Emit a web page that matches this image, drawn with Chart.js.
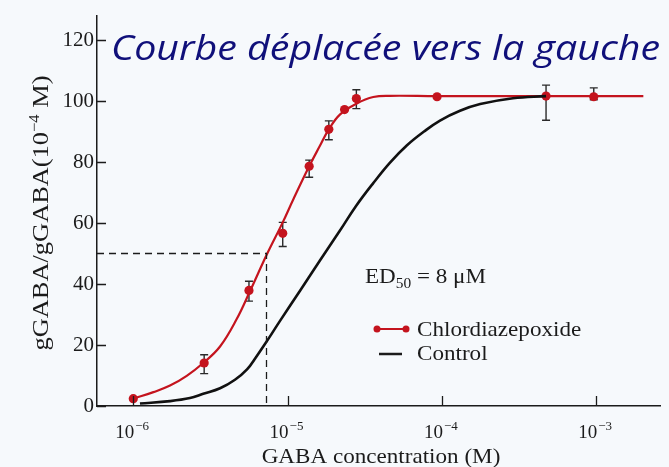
<!DOCTYPE html>
<html>
<head>
<meta charset="utf-8">
<script src="https://cdn.jsdelivr.net/npm/chart.js@4.4.1/dist/chart.umd.min.js"></script>
<style>
  html, body { margin: 0; padding: 0; background: #f6f9fc; }
</style>
</head>
<body>
<canvas id="chart" width="669" height="467"></canvas>
<script>
// values
const decades = [1e-6, 1e-5, 1e-4, 1e-3];
const decadeExp = ["\u22126", "\u22125", "\u22124", "\u22123"];
const yTicks = [0, 20, 40, 60, 80, 100, 120];

// chlordiazepoxide measurements (mean and error bar ends)
const cdzConc = [1.0e-6, 2.88e-6, 5.62e-6, 9.3e-6, 1.38e-5, 1.85e-5, 2.34e-5, 2.79e-5, 9.3e-5, 4.73e-4, 9.64e-4];
const cdzResp = [2.4, 14.1, 37.9, 56.6, 78.6, 90.7, 97.2, 100.8, 101.4, 101.6, 101.4];
const cdzErrLow = [null, 10.6, 34.4, 52.3, 75.0, 87.3, null, 97.5, null, 93.7, 100.4];
const cdzErrHigh = [null, 16.8, 40.9, 60.2, 80.6, 93.5, null, 103.7, null, 105.2, 104.3];

// fitted curves
const cdzFitX = [1.0e-6, 1.35e-6, 1.73e-6, 2.22e-6, 2.84e-6, 3.65e-6, 4.68e-6, 5.70e-6, 7.32e-6, 9.3e-6, 1.09e-5, 1.38e-5, 1.62e-5, 1.85e-5, 2.19e-5, 2.79e-5, 3.59e-5, 4.61e-5, 9.3e-5, 2.02e-3];
const cdzFitY = [2.4, 4.55, 6.7, 9.9, 14.1, 19.5, 28.5, 37.6, 49.6, 60.2, 67.8, 78.6, 85.3, 90.7, 95.6, 99.1, 101.3, 101.7, 101.6, 101.6];
const ctrlFitX = [1.105e-6, 1.73e-6, 2.33e-6, 2.84e-6, 3.65e-6, 4.56e-6, 5.46e-6, 6.24e-6, 7.24e-6, 8.93e-6, 1.204e-5, 1.624e-5, 2.19e-5, 2.77e-5, 3.58e-5, 4.61e-5, 5.94e-5, 7.66e-5, 9.72e-5, 1.31e-4, 1.77e-4, 2.89e-4, 4.73e-4];
const ctrlFitY = [0.8, 1.6, 2.6, 4.0, 5.8, 8.6, 12.0, 16.0, 20.8, 27.9, 37.8, 47.8, 57.6, 65.5, 73.0, 79.8, 85.5, 90.0, 93.6, 96.8, 99.0, 100.9, 101.6];

// half-max guide
const edConc = 7.3e-6;
const edLevel = 50;
const xMin = 5.82e-7, xMax = 2.59e-3;

const serif = "'Liberation Serif', 'DejaVu Serif', serif";
const red = '#c4141e';
const ink = '#1b1b1b';
const stretch = 1.1; // the figure's serif is wider than Times

function pts(xs, ys) {
  return xs.map((x, i) => ({ x: x, y: ys[i] }));
}

// serif text widened a little, left aligned at x
function wideText(ctx, text, x, y, size) {
  ctx.save();
  ctx.font = size + 'px ' + serif;
  ctx.textAlign = 'left';
  ctx.translate(x, y);
  ctx.scale(stretch, 1);
  ctx.fillText(text, 0, 0);
  const w = ctx.measureText(text).width * stretch;
  ctx.restore();
  return w;
}

function wideWidth(ctx, text, size) {
  ctx.save();
  ctx.font = size + 'px ' + serif;
  const w = ctx.measureText(text).width * stretch;
  ctx.restore();
  return w;
}

// draws "10" ending at x, exponent raised to its right
function drawPow(ctx, x, y, base, exp) {
  ctx.textAlign = 'right';
  ctx.font = '19px ' + serif;
  ctx.fillText(base, x, y);
  ctx.textAlign = 'left';
  ctx.font = '13px ' + serif;
  ctx.fillText(exp, x + 1, y - 8);
}

const overlay = {
  id: 'overlay',
  beforeDraw(chart) {
    const ctx = chart.ctx;
    ctx.save();
    ctx.fillStyle = '#f6f9fc';
    ctx.fillRect(0, 0, chart.width, chart.height);
    ctx.restore();
  },
  beforeDatasetsDraw(chart) {
    const ctx = chart.ctx, xs = chart.scales.x, ys = chart.scales.y;
    ctx.save();
    ctx.strokeStyle = '#2a2a2a';
    ctx.lineWidth = 1.4;
    cdzConc.forEach((c, i) => {
      if (cdzErrHigh[i] == null) return;
      const px = xs.getPixelForValue(c);
      const top = ys.getPixelForValue(cdzErrHigh[i]);
      const bot = ys.getPixelForValue(cdzErrLow[i]);
      ctx.beginPath();
      ctx.moveTo(px, top); ctx.lineTo(px, bot);
      ctx.moveTo(px - 4, top); ctx.lineTo(px + 4, top);
      ctx.moveTo(px - 4, bot); ctx.lineTo(px + 4, bot);
      ctx.stroke();
    });
    ctx.restore();
  },
  afterDraw(chart) {
    const ctx = chart.ctx, xs = chart.scales.x, ys = chart.scales.y;
    const area = chart.chartArea;
    ctx.save();

    // tick marks point inward
    ctx.strokeStyle = ink;
    ctx.lineWidth = 1.3;
    ctx.beginPath();
    yTicks.forEach(v => {
      const py = Math.round(ys.getPixelForValue(v)) + 0.5;
      ctx.moveTo(area.left, py); ctx.lineTo(area.left + 9, py);
    });
    decades.forEach(v => {
      const px = Math.round(xs.getPixelForValue(v)) + 0.5;
      ctx.moveTo(px, area.bottom); ctx.lineTo(px, area.bottom - 10);
    });
    ctx.stroke();

    // x tick labels
    ctx.fillStyle = ink;
    ctx.textBaseline = 'alphabetic';
    decades.forEach((v, i) => {
      drawPow(ctx, xs.getPixelForValue(v) + 1, 438, '10', decadeExp[i]);
    });

    // x title
    const xt = 'GABA concentration (M)';
    wideText(ctx, xt, 381 - wideWidth(ctx, xt, 21) / 2, 463, 21);

    // y title, rotated
    ctx.save();
    ctx.translate(48, 213);
    ctx.rotate(-Math.PI / 2);
    const a = 'gGABA/gGABA(10', b = '\u22124', c = ' M)';
    const wa = wideWidth(ctx, a, 24), wb = wideWidth(ctx, b, 15), wc = wideWidth(ctx, c, 24);
    let x0 = -(wa + wb + wc) / 2;
    wideText(ctx, a, x0, 0, 24);
    wideText(ctx, b, x0 + wa, -9, 15);
    wideText(ctx, c, x0 + wa + wb, 0, 24);
    ctx.restore();

    // ED50 note
    let ex = 365;
    ex += wideText(ctx, 'ED', ex, 283, 21);
    ex += wideText(ctx, '50', ex, 288, 14);
    wideText(ctx, ' = 8 \u03bcM', ex, 283, 21);

    // legend
    ctx.strokeStyle = red;
    ctx.fillStyle = red;
    ctx.lineWidth = 2;
    ctx.beginPath(); ctx.moveTo(377, 329); ctx.lineTo(406, 329); ctx.stroke();
    [377, 406].forEach(px => { ctx.beginPath(); ctx.arc(px, 329, 3.5, 0, Math.PI * 2); ctx.fill(); });
    ctx.strokeStyle = ink;
    ctx.lineWidth = 2.5;
    ctx.beginPath(); ctx.moveTo(379, 354); ctx.lineTo(402, 354); ctx.stroke();
    ctx.fillStyle = ink;
    wideText(ctx, 'Chlordiazepoxide', 417, 336, 21);
    wideText(ctx, 'Control', 417, 360, 21);

    // slide title
    const title = 'Courbe d\u00e9plac\u00e9e vers la gauche';
    ctx.font = "italic 35px 'Open Sans', 'Noto Sans', sans-serif";
    ctx.textAlign = 'left';
    ctx.fillStyle = '#10107a';
    const tw = ctx.measureText(title).width;
    ctx.translate(111, 60);
    ctx.scale(549 / tw, 1);
    ctx.fillText(title, 0, 0);

    ctx.restore();
  }
};

new Chart(document.getElementById('chart'), {
  type: 'line',
  data: {
    datasets: [
      {
        label: 'guide',
        data: pts([xMin, edConc, edConc], [edLevel, edLevel, 0]),
        borderColor: ink,
        borderWidth: 1.3,
        borderDash: [7, 5],
        pointRadius: 0,
        tension: 0
      },
      {
        label: 'Control',
        data: pts(ctrlFitX, ctrlFitY),
        borderColor: '#111111',
        borderWidth: 2.6,
        pointRadius: 0,
        tension: 0.4
      },
      {
        label: 'Chlordiazepoxide fit',
        data: pts(cdzFitX, cdzFitY),
        borderColor: red,
        borderWidth: 2.2,
        pointRadius: 0,
        tension: 0.4
      },
      {
        label: 'Chlordiazepoxide',
        data: pts(cdzConc, cdzResp),
        showLine: false,
        pointRadius: 4.6,
        pointBackgroundColor: red,
        pointBorderColor: red,
        pointBorderWidth: 0
      }
    ]
  },
  options: {
    responsive: false,
    animation: false,
    layout: { padding: { left: 0, right: 9, top: 11, bottom: 0 } },
    plugins: { legend: { display: false }, tooltip: { enabled: false } },
    scales: {
      x: {
        type: 'logarithmic',
        min: xMin,
        max: xMax,
        afterBuildTicks: s => { s.ticks = decades.map(v => ({ value: v })); },
        afterFit: s => { s.height = 61; },
        ticks: { display: false },
        grid: { display: false, drawTicks: false },
        border: { display: true, color: ink, width: 1.5 }
      },
      y: {
        min: 0,
        max: 128,
        afterBuildTicks: s => { s.ticks = yTicks.map(v => ({ value: v })); },
        afterFit: s => { s.width = 97; },
        ticks: { color: ink, padding: 3, font: { family: serif, size: 21 } },
        grid: { display: false, drawTicks: false },
        border: { display: true, color: ink, width: 1.5 }
      }
    }
  },
  plugins: [overlay]
});
</script>
</body>
</html>
